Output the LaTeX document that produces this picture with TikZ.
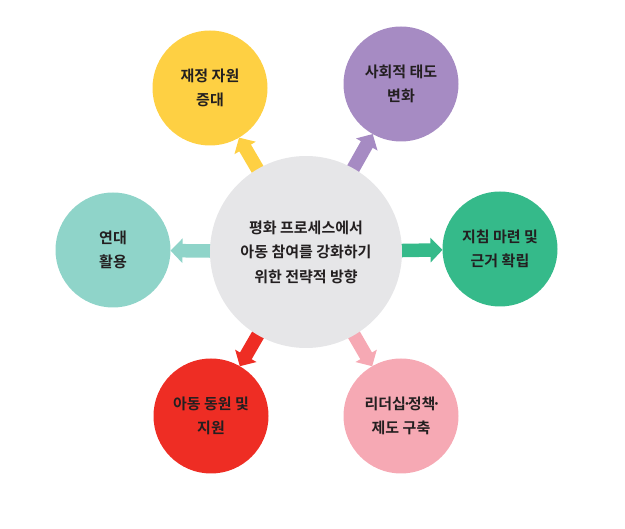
\documentclass[tikz,border=0pt]{standalone}
\usepackage{fontspec}
\newfontfamily\kr{Noto Sans CJK KR Bold}
\usetikzlibrary{arrows.meta,backgrounds}
\definecolor{cylw}{HTML}{FED043}
\definecolor{cpur}{HTML}{A68BC3}
\definecolor{ctea}{HTML}{8FD4C9}
\definecolor{cgrn}{HTML}{35BA8A}
\definecolor{cred}{HTML}{EE2D24}
\definecolor{cpnk}{HTML}{F6A9B4}
\definecolor{cgry}{HTML}{E6E6E8}
\definecolor{ctxt}{HTML}{231F20}
\newcommand\mdot{\kern-3.5pt·\kern-3.5pt}
\begin{document}
\begin{tikzpicture}[x=1pt,y=-1pt,
  sat/.style={circle,minimum size=115pt,inner sep=0pt,outer sep=0pt,align=center,text=ctxt,
    font=\kr\fontsize{15}{24.5}\selectfont},
  conn/.style={line width=13.5pt,-{Triangle[width=24pt,length=12pt]}}]
\useasboundingbox (0,0) rectangle (625,529);
\node[sat,fill=cgry,minimum size=192pt] (c) at (306,252) {평화 프로세스에서\\아동 참여를 강화하기\\위한 전략적 방향};
\node[sat,fill=cylw] (y) at (210,88) {재정 자원\\증대};
\node[sat,fill=cpur] (p) at (401,84) {사회적 태도\\변화};
\node[sat,fill=ctea] (t) at (113,250) {연대\\활용};
\node[sat,fill=cgrn] (g) at (500,249) {지침 마련 및\\근거 확립};
\node[sat,fill=cred] (r) at (211,416) {아동 동원 및\\지원};
\node[sat,fill=cpnk] (k) at (401,416) {리더십\mdot 정책\mdot\\제도 구축};
\begin{pgfonlayer}{background}
\draw[conn,cylw] (c.center) -- (y);
\draw[conn,cpur] (c.center) -- (p);
\draw[conn,ctea] (c.center) -- (t);
\draw[conn,cgrn] (c.center) -- (g);
\draw[conn,cred] (c.center) -- (r);
\draw[conn,cpnk] (c.center) -- (k);
\end{pgfonlayer}
\end{tikzpicture}
\end{document}
